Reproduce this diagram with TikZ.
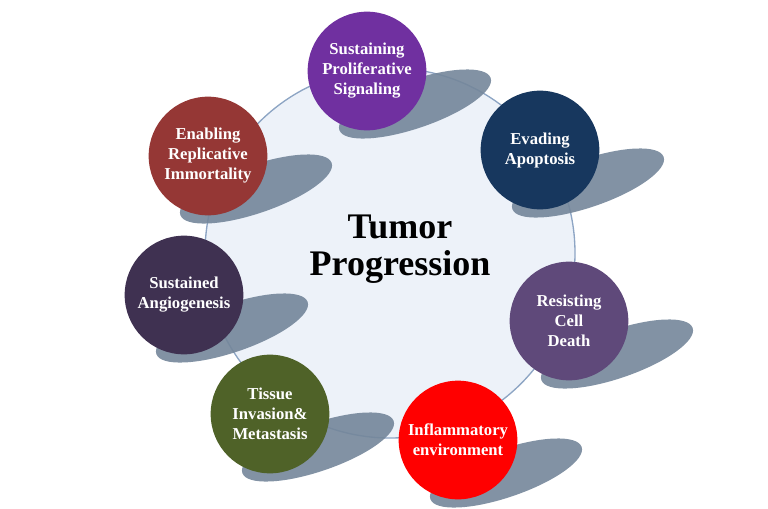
\documentclass[tikz,border=0pt]{standalone}
\usepackage{fontspec}
\setmainfont{Liberation Serif}
\usepackage{xcolor}
\usetikzlibrary{positioning,shapes.geometric}
\definecolor{corefill}{HTML}{EDF2F9}
\definecolor{coreedge}{HTML}{8DA5C4}
\definecolor{shadowgray}{HTML}{74869A}
\definecolor{prolifpurple}{HTML}{7030A0}
\definecolor{evadeblue}{HTML}{17375E}
\definecolor{resistviolet}{HTML}{5F497A}
\definecolor{inflamred}{HTML}{FF0000}
\definecolor{tissuegreen}{HTML}{4F6228}
\definecolor{angioplum}{HTML}{3F3151}
\definecolor{immortbrown}{HTML}{953735}
\tikzset{
    hallmarkcore/.style={draw=coreedge, line width=1pt, circle, fill=corefill, minimum size=277.5pt, inner sep=0pt},
    hallmarkshadow/.style={ellipse, fill=shadowgray, fill opacity=0.9, rotate=19, minimum width=120pt, minimum height=36pt, inner sep=0pt},
    hallmarkball/.style={circle, minimum size=89pt, inner sep=0pt, align=center, text=white, font=\bfseries\fontsize{12.5}{15}\selectfont},
    hallmarktitle/.style={align=center, font=\bfseries\fontsize{27}{28}\selectfont}
}

\begin{document}
\begin{tikzpicture}[x=0.75pt, y=-0.75pt]
    \useasboundingbox (0,0) rectangle (768,508);
    \node[hallmarkcore] (core) at (390,253) {};
    \node[hallmarktitle] (title) at (400,249) {Tumor\\Progression};

    % shadows first, the balls sit on them
    \node[hallmarkshadow] (prolifshadow) at (415,104) {};
    \node[hallmarkshadow] (evadeshadow) at (588,183) {};
    \node[hallmarkshadow] (resistshadow) at (617,354) {};
    \node[hallmarkshadow] (inflamshadow) at (506,473) {};
    \node[hallmarkshadow] (tissueshadow) at (318,447) {};
    \node[hallmarkshadow] (angioshadow) at (232,328) {};
    \node[hallmarkshadow] (immortshadow) at (256,189) {};

    \node[hallmarkball, fill=prolifpurple] (prolif) at (367,71) {Sustaining\\Proliferative\\Signaling};
    \node[hallmarkball, fill=evadeblue] (evade) at (540,150) {Evading\\Apoptosis};
    \node[hallmarkball, fill=resistviolet] (resist) at (569,321) {Resisting\\Cell\\Death};
    \node[hallmarkball, fill=inflamred] (inflam) at (458,440) {Inflammatory\\environment};
    \node[hallmarkball, fill=tissuegreen] (tissue) at (270,414) {Tissue\\Invasion\&\\Metastasis};
    \node[hallmarkball, fill=angioplum] (angio) at (184,295) {Sustained\\Angiogenesis};
    \node[hallmarkball, fill=immortbrown] (immort) at (208,156) {Enabling\\Replicative\\Immortality};
\end{tikzpicture}
\end{document}
